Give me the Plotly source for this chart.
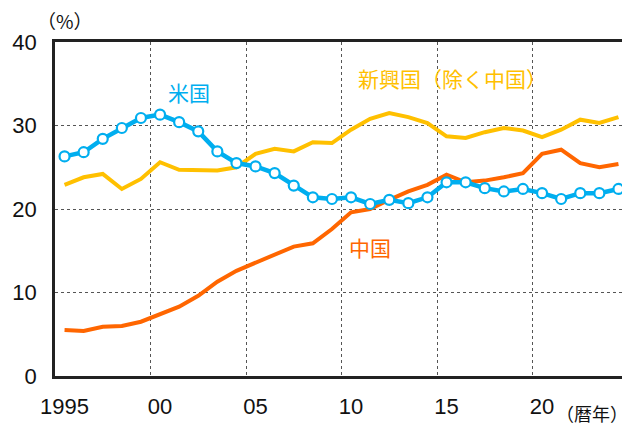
import plotly.graph_objects as go

years = list(range(1995, 2025))

us = [26.3, 26.8, 28.4, 29.7, 30.9, 31.3, 30.4, 29.3, 26.9, 25.5,
      25.1, 24.3, 22.8, 21.4, 21.2, 21.4, 20.6, 21.1, 20.7, 21.4,
      23.2, 23.2, 22.5, 22.1, 22.4, 21.9, 21.2, 21.9, 21.9, 22.4]

emerging = [22.9, 23.8, 24.2, 22.4, 23.6, 25.6, 24.7, 24.6, 24.6, 25.0,
            26.6, 27.2, 26.9, 28.0, 27.9, 29.5, 30.8, 31.5, 31.0, 30.3,
            28.7, 28.5, 29.2, 29.7, 29.4, 28.6, 29.5, 30.7, 30.3, 31.0]

china = [5.5, 5.4, 5.9, 6.0, 6.5, 7.4, 8.3, 9.6, 11.3, 12.6,
         13.6, 14.5, 15.5, 15.9, 17.6, 19.6, 20.0, 21.1, 22.1, 22.9,
         24.1, 23.2, 23.4, 23.8, 24.3, 26.6, 27.1, 25.5, 25.0, 25.4]

tick_years = [1995, 2000, 2005, 2010, 2015, 2020]
tick_text = ["1995", "00", "05", "10", "15", "20"]
grid_x = [1999.5, 2004.5, 2009.5, 2014.5, 2019.5]

BLUE = "#00AEEF"
YELLOW = "#FFC000"
ORANGE = "#FF6600"
JP = "Noto Sans CJK JP"
NUM = "Liberation Sans, Arial"

fig = go.Figure()

fig.add_trace(go.Scatter(x=years, y=emerging, mode="lines",
                         line=dict(color=YELLOW, width=4)))
fig.add_trace(go.Scatter(x=years, y=china, mode="lines",
                         line=dict(color=ORANGE, width=4)))
fig.add_trace(go.Scatter(x=years, y=us, mode="lines+markers",
                         line=dict(color=BLUE, width=4.5),
                         marker=dict(size=10, color="white",
                                     line=dict(color=BLUE, width=2.2))))

fig.update_xaxes(
    range=[1994.5, 2024.5], automargin=False,
    tickvals=tick_years, ticktext=tick_text,
    showgrid=False, zeroline=False,
    showline=True, linecolor="#222222", linewidth=2.5, mirror=True,
    ticks="", ticklabelstandoff=9,
    tickfont=dict(family=NUM, size=22, color="#111111"),
    minor=dict(tickvals=grid_x, showgrid=True, gridcolor="#555555",
               griddash="dot", gridwidth=1, ticks=""),
)
fig.update_yaxes(
    range=[0, 40], tickvals=[0, 10, 20, 30, 40], automargin=False,
    showgrid=True, gridcolor="#555555", griddash="dot", gridwidth=1,
    zeroline=False,
    showline=True, linecolor="#222222", linewidth=2.5, mirror=True,
    ticks="", ticklabelstandoff=11,
    tickfont=dict(family=NUM, size=22, color="#111111"),
)

fig.add_annotation(x=2001.5, y=34.0, text="米国", showarrow=False,
                   font=dict(family=JP, size=21, color=BLUE))
fig.add_annotation(x=2015.3, y=35.7, text="新興国（除く中国）", showarrow=False,
                   font=dict(family=JP, size=21, color=YELLOW))
fig.add_annotation(x=2011.0, y=15.4, text="中国", showarrow=False,
                   font=dict(family=JP, size=21, color=ORANGE))

fig.add_annotation(x=-0.035, y=1.0, xref="paper", yref="paper", yshift=22,
                   xanchor="left", yanchor="middle", showarrow=False,
                   text="（%）", font=dict(family=JP, size=19, color="#111111"))
fig.add_annotation(x=1.004, y=-0.11, xref="paper", yref="paper",
                   xanchor="right", yanchor="middle", showarrow=False,
                   text="（暦年）", font=dict(family=JP, size=18, color="#111111"))

# page has an 8px body margin, so the figure is sized to fit inside the window
fig.update_layout(
    width=622, height=417,
    margin=dict(l=47, r=2, t=34, b=49),
    paper_bgcolor="white", plot_bgcolor="white",
    showlegend=False,
)

fig.write_html("out.html")
